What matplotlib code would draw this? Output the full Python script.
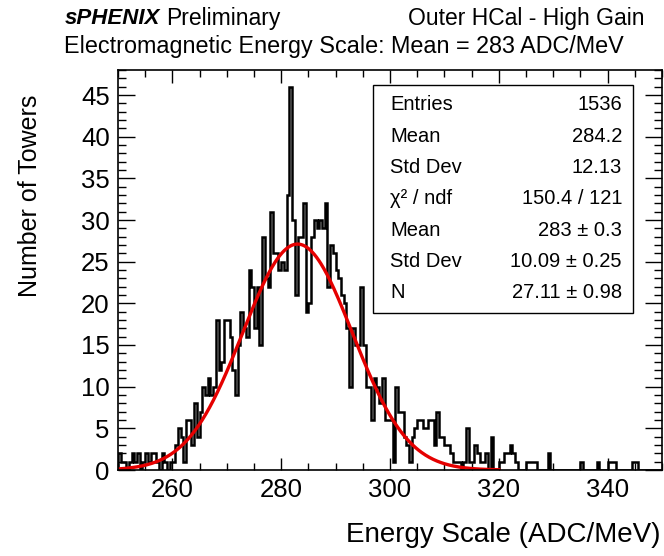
import numpy as np
import matplotlib
matplotlib.use("Agg")
import matplotlib.pyplot as plt
from matplotlib.ticker import MultipleLocator

plt.rcParams["font.family"] = ["Liberation Sans", "DejaVu Sans"]

# histogram: 0.5 ADC/MeV bins starting at 250
x_start = 250.0
bin_width = 0.5
counts = [
    2, 1, 1, 0, 1, 2, 1, 2, 0, 1,
    2, 1, 2, 2, 1, 0, 2, 1, 0, 1,
    1, 3, 5, 4, 1, 6, 6, 3, 8, 4,
    7, 10, 9, 11, 9, 10, 18, 12, 13, 18,
    18, 16, 12, 9, 15, 19, 17, 16, 24, 22,
    17, 22, 15, 28, 23, 22, 31, 26, 26, 24,
    25, 24, 33, 46, 30, 21, 28, 28, 32, 19,
    20, 28, 30, 29, 30, 29, 32, 22, 27, 26,
    24, 23, 21, 20, 17, 10, 17, 15, 15, 22,
    15, 10, 10, 6, 11, 10, 8, 11, 6, 6,
    6, 1, 10, 7, 7, 4, 3, 1, 4, 5,
    6, 6, 5, 5, 6, 6, 3, 7, 4, 4,
    3, 3, 2, 1, 1, 1, 0, 1, 5, 1,
    1, 3, 2, 1, 1, 2, 0, 4, 0, 0,
    1, 1, 2, 2, 3, 2, 1, 0, 0, 0,
    1, 1, 1, 1, 0, 0, 0, 0, 2, 0,
    0, 0, 0, 0, 0, 0, 0, 0, 0, 0,
    1, 0, 0, 0, 0, 0, 1, 0, 0, 0,
    1, 1, 1, 0, 0, 0, 0, 0, 0, 1,
    1, 0, 0, 0, 0, 0, 0, 0, 0, 0,
]

# gaussian fit parameters
fit_N = 27.11
fit_mean = 283.0
fit_sigma = 10.09
fit_range = (250, 320)

stat_labels = ["Entries", "Mean", "Std Dev", "\u03c7\u00b2 / ndf", "Mean", "Std Dev", "N"]
stat_values = ["1536", "284.2", "12.13", "150.4 / 121", "283 \u00b1 0.3",
               "10.09 \u00b1 0.25", "27.11 \u00b1 0.98"]

W, H = 664, 556


def fx(px):
    return px / W


def fy(py):
    return 1 - py / H


fig = plt.figure(figsize=(W / 100, H / 100), dpi=100)
ax = fig.add_axes([fx(118), fy(470), fx(662) - fx(118), fy(70) - fy(470)])

edges = x_start + bin_width * np.arange(len(counts) + 1)
ax.stairs(counts, edges, color="black", lw=1.8)

xf = np.linspace(fit_range[0], fit_range[1], 500)
ax.plot(xf, fit_N * np.exp(-0.5 * ((xf - fit_mean) / fit_sigma) ** 2),
        color="#e50000", lw=2.4)

ax.set_xlim(250, 350)
ax.set_ylim(0, 48)
ax.xaxis.set_major_locator(MultipleLocator(20))
ax.xaxis.set_minor_locator(MultipleLocator(5))
ax.yaxis.set_major_locator(MultipleLocator(5))
ax.yaxis.set_minor_locator(MultipleLocator(1))
ax.tick_params(which="both", direction="in", top=True, right=True,
               labelsize=18.5, width=1.0, pad=6)
ax.tick_params(axis="y", which="major", length=12)
ax.tick_params(axis="y", which="minor", length=6)
ax.tick_params(axis="x", which="major", length=9)
ax.tick_params(axis="x", which="minor", length=5)
for s in ax.spines.values():
    s.set_linewidth(1.2)

fig.text(fx(660), fy(535), "Energy Scale (ADC/MeV)", ha="right", va="center", fontsize=20)
fig.text(fx(30), fy(95), "Number of Towers", rotation=90, ha="center", va="top", fontsize=18)

# header lines
t1 = fig.text(fx(65), fy(18), "sPHENIX", fontsize=16, fontweight="bold", style="italic",
              va="center")
fig.canvas.draw()
bb = t1.get_window_extent()
fig.text(bb.x1 / W + fx(6), fy(18), "Preliminary", fontsize=16.5, va="center")
fig.text(fx(644), fy(18), "Outer HCal - High Gain", fontsize=16.5, va="center", ha="right")
fig.text(fx(64), fy(47), "Electromagnetic Energy Scale: Mean = 283 ADC/MeV",
         fontsize=16.8, va="center")

# stats box
box = plt.Rectangle((fx(373), fy(313)), fx(633) - fx(373), fy(85) - fy(313),
                    transform=fig.transFigure, facecolor="white", edgecolor="black",
                    lw=1.0, zorder=5)
fig.patches.append(box)
row0, dy = 105, 31.3
for i, (lab, val) in enumerate(zip(stat_labels, stat_values)):
    yy = fy(row0 + i * dy)
    fig.text(fx(390), yy, lab, fontsize=14.5, va="center", ha="left", zorder=6)
    fig.text(fx(622), yy, val, fontsize=14.5, va="center", ha="right", zorder=6)

fig.savefig("out.png", dpi=100)
